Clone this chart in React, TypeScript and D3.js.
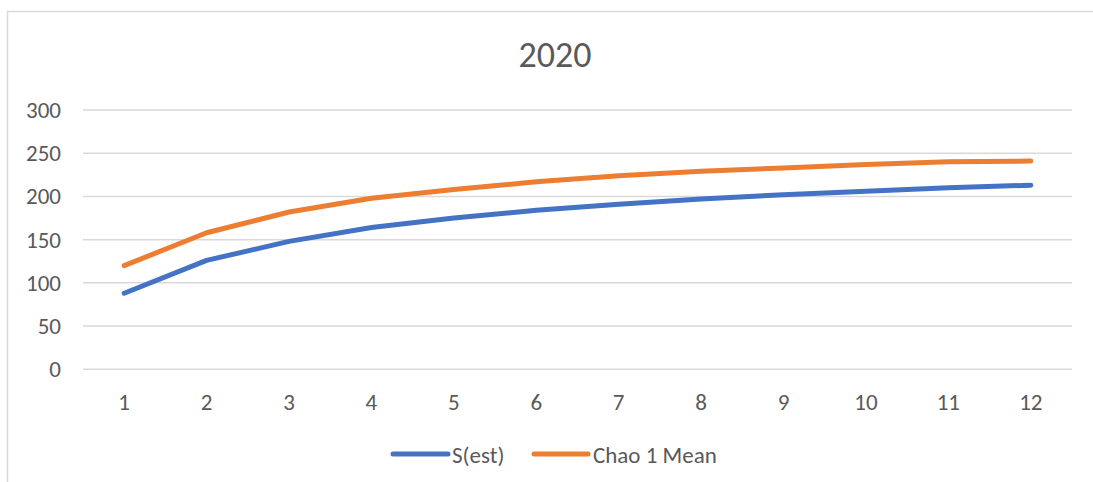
import React from "react";
import * as d3 from "d3";

const categories = ["1", "2", "3", "4", "5", "6", "7", "8", "9", "10", "11", "12"];
const sEst = [88, 126, 148, 164, 175, 184, 191, 197, 202, 206, 210, 213];
const chao1Mean = [120, 158, 182, 198, 208, 217, 224, 229, 233, 237, 240, 241];
const yTicks = [0, 50, 100, 150, 200, 250, 300];
const seriesNames = ["S(est)", "Chao 1 Mean"];
const title = "2020";

const W = 1093;
const H = 482;
const FONT = "Carlito, Calibri, 'Open Sans', 'Liberation Sans', sans-serif";

export default function App() {
  const left = 83;
  const right = 1072;
  const top = 110;
  const bottom = 369.3;

  const x = d3.scaleBand<string>().domain(categories).range([left, right]);
  const y = d3.scaleLinear().domain([0, 300]).range([bottom, top]);
  const cx = (c: string) => (x(c) as number) + x.bandwidth() / 2;

  const line = d3
    .line<number>()
    .x((_, i) => cx(categories[i]))
    .y((d) => y(d));

  const colors = ["#4472C4", "#ED7D31"];
  const data = [sEst, chao1Mean];

  const legend = [
    { x1: 393, x2: 448, tx: 452 },
    { x1: 534, x2: 588, tx: 593 },
  ];

  return (
    <svg
      width={W}
      height={H}
      style={{ position: "absolute", left: 0, top: 0, background: "#fff" }}
      fontFamily={FONT}
    >
      <rect x={0} y={0} width={W} height={H} fill="#fff" />
      <rect x={7.5} y={11.5} width={1200} height={600} fill="none" stroke="#d9d9d9" strokeWidth={1.5} />
      <text x={555} y={67} textAnchor="middle" fontSize={36} fill="#595959">
        {title}
      </text>
      {yTicks.map((t) => (
        <g key={t}>
          <line x1={left} x2={right} y1={y(t)} y2={y(t)} stroke="#d9d9d9" strokeWidth={1.5} />
          <text x={61} y={y(t)} dy="0.35em" textAnchor="end" fontSize={23} fill="#595959">
            {t}
          </text>
        </g>
      ))}
      {categories.map((c) => (
        <text key={c} x={cx(c)} y={402} dy="0.35em" textAnchor="middle" fontSize={23} fill="#595959">
          {c}
        </text>
      ))}
      {data.map((d, i) => (
        <path
          key={i}
          d={line(d) || ""}
          fill="none"
          stroke={colors[i]}
          strokeWidth={5}
          strokeLinecap="round"
          strokeLinejoin="round"
        />
      ))}
      {legend.map((l, i) => (
        <g key={i}>
          <line x1={l.x1} x2={l.x2} y1={454} y2={454} stroke={colors[i]} strokeWidth={5} strokeLinecap="round" />
          <text x={l.tx} y={455} dy="0.35em" fontSize={23} fill="#595959">
            {seriesNames[i]}
          </text>
        </g>
      ))}
    </svg>
  );
}
